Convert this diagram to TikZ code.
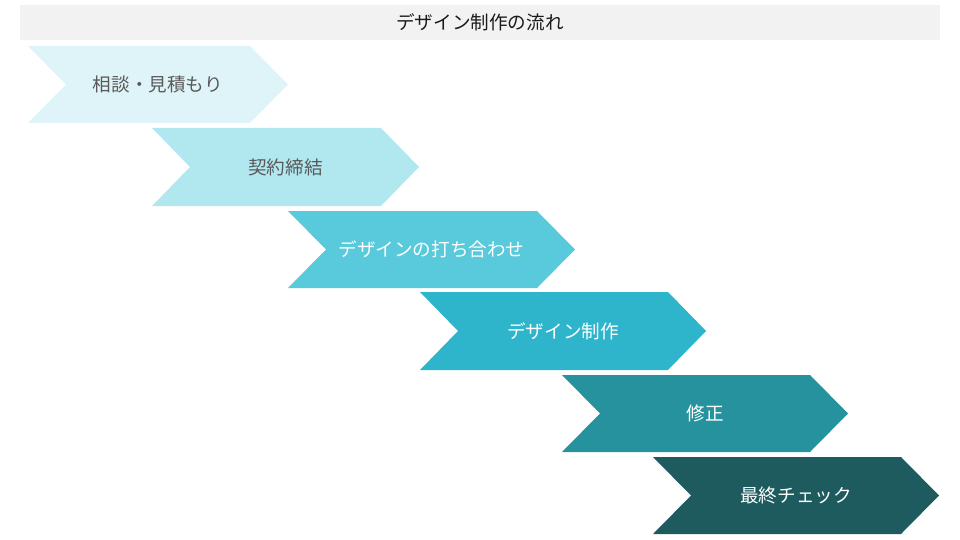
\documentclass[tikz,border=0pt]{standalone}
\usepackage{fontspec}
\setmainfont{Noto Sans CJK JP}
\newfontfamily\jp{Noto Sans CJK JP}
\definecolor{titlebg}{HTML}{F2F2F2}
\definecolor{titletxt}{HTML}{1A1A1A}
\definecolor{graytxt}{HTML}{595959}
\definecolor{cA}{HTML}{DFF4F8}
\definecolor{cB}{HTML}{B1E8F0}
\definecolor{cC}{HTML}{58CADB}
\definecolor{cD}{HTML}{2FB5CB}
\definecolor{cE}{HTML}{26929E}
\definecolor{cF}{HTML}{1D5B5F}
\tikzset{
  steplabel/.style={font=\jp\fontsize{18.6}{21}\selectfont, inner sep=0pt, anchor=center},
  titlelabel/.style={font=\jp\fontsize{18.6}{21}\selectfont, text=titletxt, inner sep=0pt}
}
% #1 name, #2 left, #3 top, #4 bottom, #5 tip x, #6 fill, #7 text colour, #8 text
\newcommand{\chevstep}[8]{%
  \fill[#6] (#2,#3) -- (#5-38,#3) -- (#5,{(#3+#4)/2}) -- (#5-38,#4) -- (#2,#4) -- (#2+38,{(#3+#4)/2}) -- cycle;
  \node[steplabel, text=#7] (#1) at ({(#2+#5)/2},{(#3+#4)/2}) {#8};
}
\begin{document}
\begin{tikzpicture}[x=1pt,y=-1pt]
\useasboundingbox (0,0) rectangle (960,540);
\fill[titlebg] (20,5) rectangle (940,40);
\node[titlelabel] (title) at (480,22.5) {デザイン制作の流れ};
\chevstep{s1}{28}{46}{123}{288}{cA}{graytxt}{相談・見積もり}
\chevstep{s2}{152}{128}{206}{419}{cB}{graytxt}{契約締結}
\chevstep{s3}{288}{211}{288}{575}{cC}{white}{デザインの打ち合わせ}
\chevstep{s4}{420}{292}{370}{706}{cD}{white}{デザイン制作}
\chevstep{s5}{562}{375}{452}{848}{cE}{white}{修正}
\chevstep{s6}{653}{457}{534}{939}{cF}{white}{最終チェック}
\end{tikzpicture}
\end{document}
